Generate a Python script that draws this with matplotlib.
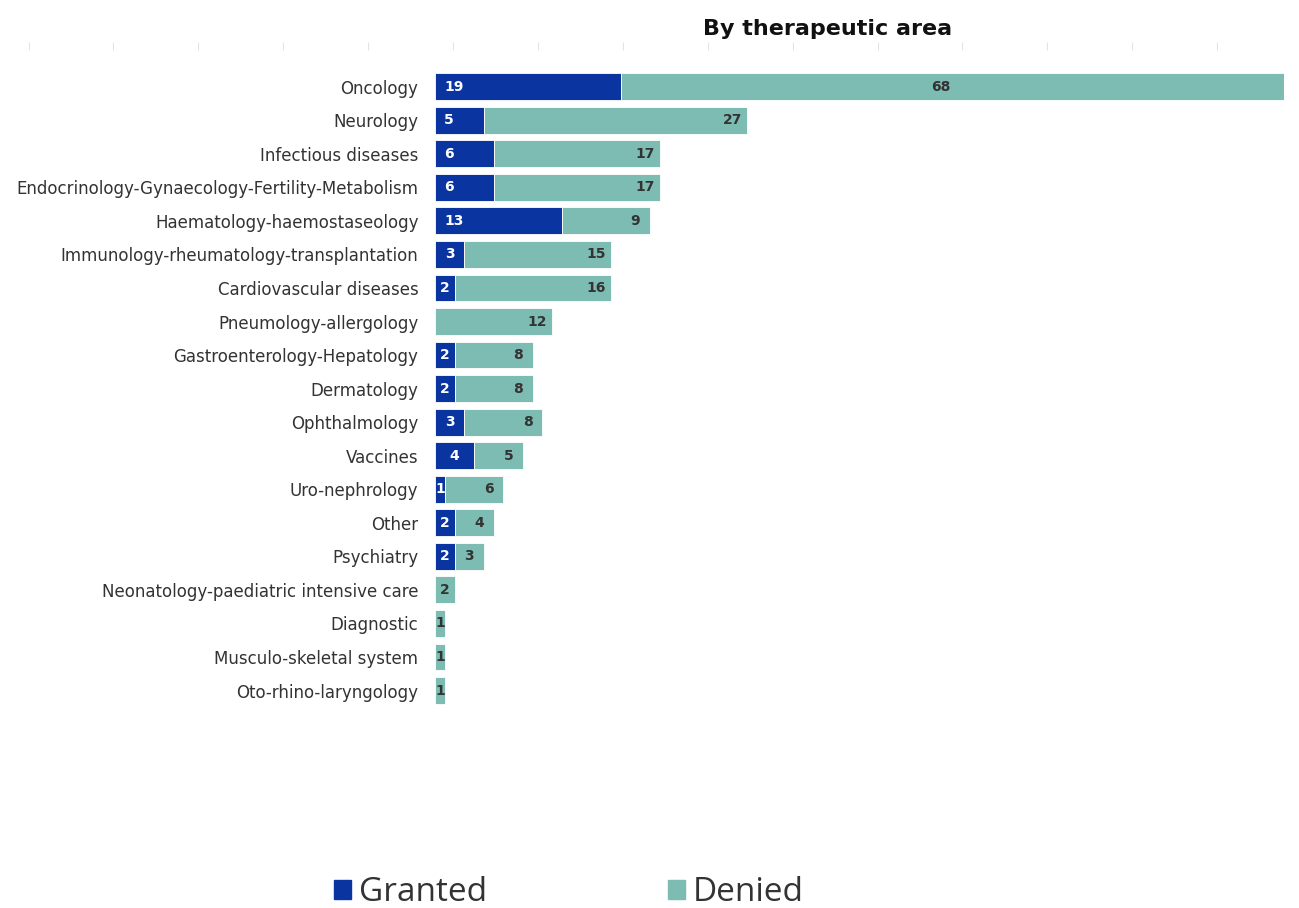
import matplotlib.pyplot as plt
import numpy as np

# data (top to bottom)
areas = [
    "Oncology", "Neurology", "Infectious diseases",
    "Endocrinology-Gynaecology-Fertility-Metabolism",
    "Haematology-haemostaseology", "Immunology-rheumatology-transplantation",
    "Cardiovascular diseases", "Pneumology-allergology",
    "Gastroenterology-Hepatology", "Dermatology", "Ophthalmology",
    "Vaccines", "Uro-nephrology", "Other", "Psychiatry",
    "Neonatology-paediatric intensive care", "Diagnostic",
    "Musculo-skeletal system", "Oto-rhino-laryngology",
]
granted = [19, 5, 6, 6, 13, 3, 2, 0, 2, 2, 3, 4, 1, 2, 2, 0, 0, 0, 0]
denied = [68, 27, 17, 17, 9, 15, 16, 12, 8, 8, 8, 5, 6, 4, 3, 2, 1, 1, 1]

c_granted = "#0a35a0"
c_denied = "#7dbcb2"

plt.rcParams["font.family"] = "DejaVu Sans"

fig = plt.figure(figsize=(12.99, 9.08), dpi=100)

# faint tick marks along the top (leftover of the original slide)
top = fig.add_axes([0.022, 0.945, 0.915, 0.01])
top.set_xlim(0, 14)
top.set_xticks(np.arange(15))
top.tick_params(axis="x", direction="in", length=6, color="#e4e4e4",
                labelbottom=False, bottom=True)
top.set_yticks([])
for s in top.spines.values():
    s.set_visible(False)

ax = fig.add_axes([0.335, 0.221, 0.6535, 0.702])
y = np.arange(len(areas))
g = np.array(granted)
d = np.array(denied)
total_max = (g + d).max()

ax.barh(y, g, height=0.8, color=c_granted, edgecolor="white", linewidth=0.6)
ax.barh(y, d, left=g, height=0.8, color=c_denied, edgecolor="white", linewidth=0.6)

ax.set_xlim(0, total_max)
ax.set_ylim(len(areas) - 0.5, -0.5)
ax.set_yticks(y)
ax.set_yticklabels(areas, fontsize=12, color="#333333", family="DejaVu Sans")
ax.tick_params(axis="y", length=0, pad=12)
ax.set_xticks([])
for s in ax.spines.values():
    s.set_visible(False)

for yi, gv, dv in zip(y, g, d):
    if gv > 0:
        if gv >= 5:
            ax.text(0.9, yi, str(gv), ha="left", va="center", color="white",
                    fontsize=10, fontweight="bold")
        else:
            ax.text(gv / 2, yi, str(gv), ha="center", va="center", color="white",
                    fontsize=10, fontweight="bold")
    if dv > 0:
        if dv > 0.6 * total_max:
            xpos = gv + dv / 2 - 1.2
        else:
            xpos = max(gv + dv / 2, gv + dv - 1.5)
        ax.text(xpos, yi, str(dv), ha="center", va="center", color="#333333",
                fontsize=10, fontweight="bold")

fig.text(0.637, 0.968, "By therapeutic area", ha="center", va="center",
         fontsize=16, fontweight="bold", color="#111111")

handles = [plt.Rectangle((0, 0), 1, 1, color=c_granted),
           plt.Rectangle((0, 0), 1, 1, color=c_denied)]
leg = fig.legend(handles, ["Granted", "Denied"], loc="center",
                 bbox_to_anchor=(0.438, 0.017), ncol=2, frameon=False,
                 prop={"family": "Open Sans", "size": 24},
                 handlelength=0.52, handleheight=0.52, handletextpad=0.25,
                 columnspacing=5.4, borderpad=0)
for t in leg.get_texts():
    t.set_color("#333333")

fig.savefig("out.png", dpi=100)
